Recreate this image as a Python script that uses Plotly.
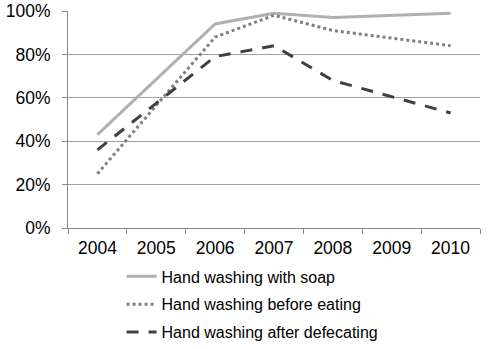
import plotly.graph_objects as go

years = ["2004", "2005", "2006", "2007", "2008", "2009", "2010"]
soap = [43, None, 94, 99, 97, None, 99]
before_eating = [25, None, 88, 98, 91, None, 84]
after_defecating = [36, None, 79, 84, 68, None, 53]
y_ticks = [0, 20, 40, 60, 80, 100]
y_labels = ["0%", "20%", "40%", "60%", "80%", "100%"]

fig = go.Figure()
fig.add_trace(go.Scatter(x=years, y=soap, name="Hand washing with soap", mode="lines",
                         legendgroup="a", connectgaps=True, line=dict(color="#b0b0b0", width=3)))
fig.add_trace(go.Scatter(x=years, y=before_eating, name="Hand washing before eating", mode="lines",
                         legendgroup="b", connectgaps=True, line=dict(color="#808080", width=3, dash="dot")))
fig.add_trace(go.Scatter(x=years, y=after_defecating, name="Hand washing after defecating", mode="lines",
                         legendgroup="c", connectgaps=True, line=dict(color="#404040", width=3, dash="12px,10px")))

fig.update_layout(
    width=491, height=349,
    margin=dict(l=68, r=11, t=11, b=121, autoexpand=False),
    paper_bgcolor="white", plot_bgcolor="white",
    font=dict(family="Liberation Sans, Arial", size=17.5, color="black"),
    showlegend=True,
    legend=dict(x=0.13, y=-0.145, xanchor="left", yanchor="top", orientation="v",
                font=dict(size=16), bgcolor="rgba(0,0,0,0)", tracegroupgap=4),
    xaxis=dict(type="category", range=[-0.5, 6.5], showline=True, linecolor="#888888", linewidth=1,
               ticks="outside", ticklen=5, tickcolor="#888888", tickson="boundaries",
               ticklabelstandoff=4, showgrid=False, fixedrange=True, automargin=False),
    yaxis=dict(range=[0, 100], tickvals=y_ticks, ticktext=y_labels, showline=True,
               linecolor="#888888", linewidth=1, ticks="outside", ticklen=5, tickcolor="#888888",
               ticklabelstandoff=8, showgrid=True, gridcolor="#a0a0a0", gridwidth=1, zeroline=False,
               fixedrange=True, automargin=False),
)

# drop the browser's default body margin so the figure fills the window
fig.write_html("out.html", config={"displayModeBar": False},
               post_script="document.body.style.margin='0';")
